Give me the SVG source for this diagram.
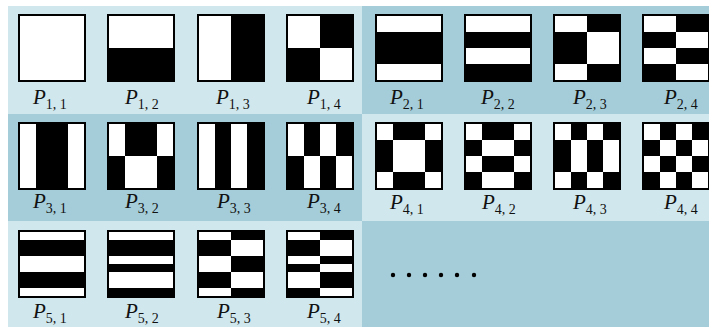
<svg xmlns="http://www.w3.org/2000/svg" width="709" height="327" viewBox="0 0 709 327">
<style>
.lt{fill:#d0e7ee}
.dk{fill:#a5cdd9}
.f{fill:#000}
.w{fill:#fff}
.lbl{font-family:"Liberation Serif","Times New Roman",serif;font-size:21px;fill:#111}
.p{font-style:italic}
.s{font-size:14px;font-style:normal}
.dot{fill:#000}
</style>
<rect width="709" height="327" fill="#fff"/>
<g id="panels">
<rect class="lt" x="8" y="6" width="354" height="108"/>
<rect class="dk" x="362" y="6" width="347" height="108"/>
<rect class="dk" x="8" y="114" width="354" height="107"/>
<rect class="lt" x="362" y="114" width="347" height="107"/>
<rect class="lt" x="8" y="221" width="354" height="106"/>
<rect class="dk" x="362" y="221" width="347" height="106"/>
</g>
<g id="P11" transform="translate(18,14)"><rect class="f" width="68" height="68"/><rect class="w" x="2" y="2" width="64" height="64"/></g>
<g id="P12" transform="translate(107,14)"><rect class="f" width="68" height="68"/><rect class="w" x="2" y="2" width="64" height="32"/></g>
<g id="P13" transform="translate(197,14)"><rect class="f" width="68" height="68"/><rect class="w" x="2" y="2" width="32" height="64"/></g>
<g id="P14" transform="translate(286,14)"><rect class="f" width="68" height="68"/><rect class="w" x="2" y="2" width="32" height="32"/><rect class="w" x="34" y="34" width="32" height="32"/></g>
<g id="P21" transform="translate(375,14)"><rect class="f" width="68" height="68"/><rect class="w" x="2" y="2" width="64" height="16"/><rect class="w" x="2" y="50" width="64" height="16"/></g>
<g id="P22" transform="translate(464,14)"><rect class="f" width="68" height="68"/><rect class="w" x="2" y="2" width="64" height="16"/><rect class="w" x="2" y="34" width="64" height="16"/></g>
<g id="P23" transform="translate(553,14)"><rect class="f" width="68" height="68"/><rect class="w" x="2" y="2" width="32" height="16"/><rect class="w" x="2" y="50" width="32" height="16"/><rect class="w" x="34" y="18" width="32" height="32"/></g>
<g id="P24" transform="translate(642,14)"><rect class="f" width="68" height="68"/><rect class="w" x="2" y="2" width="32" height="16"/><rect class="w" x="2" y="34" width="32" height="16"/><rect class="w" x="34" y="18" width="32" height="16"/><rect class="w" x="34" y="50" width="32" height="16"/></g>
<g id="P31" transform="translate(18,122)"><rect class="f" width="68" height="68"/><rect class="w" x="2" y="2" width="16" height="64"/><rect class="w" x="50" y="2" width="16" height="64"/></g>
<g id="P32" transform="translate(107,122)"><rect class="f" width="68" height="68"/><rect class="w" x="2" y="2" width="16" height="32"/><rect class="w" x="50" y="2" width="16" height="32"/><rect class="w" x="18" y="34" width="32" height="32"/></g>
<g id="P33" transform="translate(197,122)"><rect class="f" width="68" height="68"/><rect class="w" x="2" y="2" width="16" height="64"/><rect class="w" x="34" y="2" width="16" height="64"/></g>
<g id="P34" transform="translate(286,122)"><rect class="f" width="68" height="68"/><rect class="w" x="2" y="2" width="16" height="32"/><rect class="w" x="34" y="2" width="16" height="32"/><rect class="w" x="18" y="34" width="16" height="32"/><rect class="w" x="50" y="34" width="16" height="32"/></g>
<g id="P41" transform="translate(375,122)"><rect class="f" width="68" height="68"/><rect class="w" x="2" y="2" width="16" height="16"/><rect class="w" x="50" y="2" width="16" height="16"/><rect class="w" x="2" y="50" width="16" height="16"/><rect class="w" x="50" y="50" width="16" height="16"/><rect class="w" x="18" y="18" width="32" height="32"/></g>
<g id="P42" transform="translate(464,122)"><rect class="f" width="68" height="68"/><rect class="w" x="2" y="2" width="16" height="16"/><rect class="w" x="50" y="2" width="16" height="16"/><rect class="w" x="18" y="18" width="32" height="16"/><rect class="w" x="2" y="34" width="16" height="16"/><rect class="w" x="50" y="34" width="16" height="16"/><rect class="w" x="18" y="50" width="32" height="16"/></g>
<g id="P43" transform="translate(553,122)"><rect class="f" width="68" height="68"/><rect class="w" x="2" y="2" width="16" height="16"/><rect class="w" x="34" y="2" width="16" height="16"/><rect class="w" x="18" y="18" width="16" height="32"/><rect class="w" x="50" y="18" width="16" height="32"/><rect class="w" x="2" y="50" width="16" height="16"/><rect class="w" x="34" y="50" width="16" height="16"/></g>
<g id="P44" transform="translate(642,122)"><rect class="f" width="68" height="68"/><rect class="w" x="2" y="2" width="16" height="16"/><rect class="w" x="34" y="2" width="16" height="16"/><rect class="w" x="18" y="18" width="16" height="16"/><rect class="w" x="50" y="18" width="16" height="16"/><rect class="w" x="2" y="34" width="16" height="16"/><rect class="w" x="34" y="34" width="16" height="16"/><rect class="w" x="18" y="50" width="16" height="16"/><rect class="w" x="50" y="50" width="16" height="16"/></g>
<g id="P51" transform="translate(18,230)"><rect class="f" width="68" height="68"/><rect class="w" x="2" y="2" width="64" height="8"/><rect class="w" x="2" y="26" width="64" height="16"/><rect class="w" x="2" y="58" width="64" height="8"/></g>
<g id="P52" transform="translate(107,230)"><rect class="f" width="68" height="68"/><rect class="w" x="2" y="2" width="64" height="8"/><rect class="w" x="2" y="26" width="64" height="8"/><rect class="w" x="2" y="42" width="64" height="16"/></g>
<g id="P53" transform="translate(197,230)"><rect class="f" width="68" height="68"/><rect class="w" x="2" y="2" width="32" height="8"/><rect class="w" x="2" y="26" width="32" height="16"/><rect class="w" x="2" y="58" width="32" height="8"/><rect class="w" x="34" y="10" width="32" height="16"/><rect class="w" x="34" y="42" width="32" height="16"/></g>
<g id="P54" transform="translate(286,230)"><rect class="f" width="68" height="68"/><rect class="w" x="2" y="2" width="32" height="8"/><rect class="w" x="2" y="26" width="32" height="8"/><rect class="w" x="2" y="42" width="32" height="16"/><rect class="w" x="34" y="10" width="32" height="16"/><rect class="w" x="34" y="34" width="32" height="8"/><rect class="w" x="34" y="58" width="32" height="8"/></g>
<g id="labels" class="lbl">
<text x="33" y="104"><tspan class="p">P</tspan><tspan class="s" dy="5">1, 1</tspan></text>
<text x="125" y="104"><tspan class="p">P</tspan><tspan class="s" dy="5">1, 2</tspan></text>
<text x="216" y="104"><tspan class="p">P</tspan><tspan class="s" dy="5">1, 3</tspan></text>
<text x="307" y="104"><tspan class="p">P</tspan><tspan class="s" dy="5">1, 4</tspan></text>
<text x="390" y="104"><tspan class="p">P</tspan><tspan class="s" dy="5">2, 1</tspan></text>
<text x="481" y="104"><tspan class="p">P</tspan><tspan class="s" dy="5">2, 2</tspan></text>
<text x="573" y="104"><tspan class="p">P</tspan><tspan class="s" dy="5">2, 3</tspan></text>
<text x="664" y="104"><tspan class="p">P</tspan><tspan class="s" dy="5">2, 4</tspan></text>
<text x="33" y="208"><tspan class="p">P</tspan><tspan class="s" dy="5">3, 1</tspan></text>
<text x="125" y="208"><tspan class="p">P</tspan><tspan class="s" dy="5">3, 2</tspan></text>
<text x="217" y="208"><tspan class="p">P</tspan><tspan class="s" dy="5">3, 3</tspan></text>
<text x="307" y="208"><tspan class="p">P</tspan><tspan class="s" dy="5">3, 4</tspan></text>
<text x="390" y="209"><tspan class="p">P</tspan><tspan class="s" dy="5">4, 1</tspan></text>
<text x="482" y="209"><tspan class="p">P</tspan><tspan class="s" dy="5">4, 2</tspan></text>
<text x="573" y="209"><tspan class="p">P</tspan><tspan class="s" dy="5">4, 3</tspan></text>
<text x="664" y="209"><tspan class="p">P</tspan><tspan class="s" dy="5">4, 4</tspan></text>
<text x="33" y="318"><tspan class="p">P</tspan><tspan class="s" dy="5">5, 1</tspan></text>
<text x="125" y="318"><tspan class="p">P</tspan><tspan class="s" dy="5">5, 2</tspan></text>
<text x="217" y="318"><tspan class="p">P</tspan><tspan class="s" dy="5">5, 3</tspan></text>
<text x="307" y="318"><tspan class="p">P</tspan><tspan class="s" dy="5">5, 4</tspan></text>
</g>
<g id="ellipsis">
<circle class="dot" cx="393" cy="275" r="2.2"/>
<circle class="dot" cx="409" cy="275" r="2.2"/>
<circle class="dot" cx="425" cy="275" r="2.2"/>
<circle class="dot" cx="441" cy="275" r="2.2"/>
<circle class="dot" cx="457" cy="275" r="2.2"/>
<circle class="dot" cx="474" cy="275" r="2.2"/>
</g>
<g id="connectors"/>
</svg>
